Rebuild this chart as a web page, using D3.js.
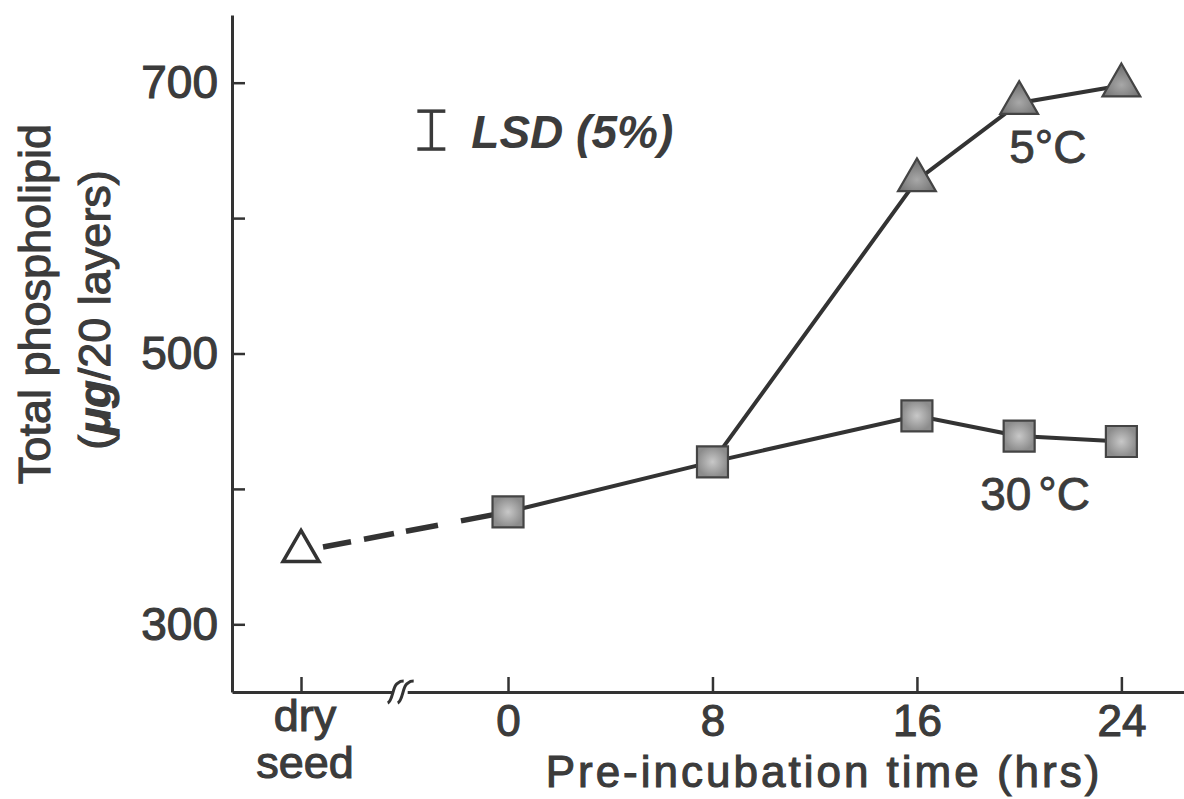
<!DOCTYPE html>
<html>
<head>
<meta charset="utf-8">
<script src="https://cdn.jsdelivr.net/npm/d3@7"></script>
<style>
  html, body { margin: 0; padding: 0; background: #fff; }
  svg { display: block; }
  text { font-family: "Liberation Sans", Arial, Helvetica, sans-serif; fill: #3c3c3c; }
</style>
</head>
<body>
<svg id="chart" width="1184" height="799"></svg>
<script>
// ---- data ----
const xTickHours = [0, 8, 16, 24];
const drySeedLabel = ["dry", "seed"];
const drySeedPos = -8.1;        // position of the "dry seed" category on the hour axis
const axisBreakPos = -4.2;      // where the x-axis break is drawn
const yTicks = [300, 400, 500, 600, 700];
const yTickLabels = [300, 500, 700];

const drySeedValue = 354;
const hours30 = [0, 8, 16, 20, 24];
const values30 = [383, 420, 454, 439, 435];
const hours5 = [8, 16, 20, 24];
const values5 = [420, 628, 685, 698];

const lsdPos = -3;
const lsdLow = 651;
const lsdValue = 28;

const seriesLabels = ["5°C", "30°C"];
const yTitle = ["Total phospholipid", "(μg/20 layers)"];
const xTitle = "Pre-incubation time (hrs)";

// ---- scales ----
const svg = d3.select("#chart");
const x = d3.scaleLinear().domain([-10.8, 26.45]).range([232, 1184]);
const y = d3.scaleLinear().domain([250, 750]).range([692, 15]);
const ink = "#333";
const txt = "#3a3a3a";
const heavy = 1.1;

// ---- axes ----
const yAxis = d3.axisLeft(y)
  .tickValues(yTicks)
  .tickSizeInner(-13).tickSizeOuter(0).tickPadding(14)
  .tickFormat(d => yTickLabels.includes(d) ? d3.format("d")(d) : "");
const gy = svg.append("g").attr("transform", `translate(${x.range()[0]},0)`).call(yAxis);
gy.select(".domain").attr("stroke", ink).attr("stroke-width", 3);
gy.selectAll(".tick line").attr("stroke", ink).attr("stroke-width", 2.5);
gy.selectAll(".tick text").attr("font-size", 46).attr("fill", txt)
  .attr("stroke", txt).attr("stroke-width", heavy).attr("font-family", null);

const xAxis = d3.axisBottom(x)
  .tickValues([drySeedPos].concat(xTickHours))
  .tickSizeInner(-15).tickSizeOuter(0).tickPadding(13)
  .tickFormat(d => d === drySeedPos ? "" : d3.format("d")(d));
const gx = svg.append("g").attr("transform", `translate(0,${y.range()[0]})`).call(xAxis);
gx.select(".domain").attr("stroke", ink).attr("stroke-width", 3);
gx.selectAll(".tick line").attr("stroke", ink).attr("stroke-width", 2.5);
gx.selectAll(".tick text").attr("font-size", 44).attr("fill", txt)
  .attr("stroke", txt).attr("stroke-width", heavy).attr("font-family", null);

// dry seed two-line label
svg.append("g").selectAll("text").data(drySeedLabel).join("text")
  .attr("x", x(drySeedPos) + 4)
  .attr("y", (d, i) => y.range()[0] + 39 + i * 47)
  .attr("text-anchor", "middle").attr("font-size", 45)
  .attr("stroke", txt).attr("stroke-width", heavy)
  .text(d => d);

// axis break "//"
const bx = x(axisBreakPos), by = y.range()[0];
svg.append("rect").attr("x", bx - 7).attr("y", by - 3).attr("width", 14).attr("height", 6).attr("fill", "#fff");
[-5, 5].forEach(off => {
  svg.append("path")
    .attr("d", `M${bx + off - 8},${by + 11} C${bx + off - 3},${by + 9} ${bx + off - 3},${by - 5} ${bx + off + 1},${by - 8} S${bx + off + 5},${by - 11} ${bx + off + 8},${by - 11}`)
    .attr("fill", "none").attr("stroke", ink).attr("stroke-width", 3);
});

// ---- titles ----
svg.append("g").attr("transform", "rotate(-90)")
  .selectAll("text").data(yTitle).join("text")
  .attr("x", (d, i) => -(304 + i * 6))
  .attr("y", (d, i) => 50 + i * 60)
  .attr("text-anchor", "middle").attr("font-size", 45)
  .attr("stroke", txt).attr("stroke-width", heavy)
  .each(function(d, i) {
    const t = d3.select(this);
    if (i === 1) {
      t.append("tspan").text("(");
      t.append("tspan").attr("font-style", "italic").attr("font-weight", "bold").text("μg");
      t.append("tspan").text(d.slice(3));
    } else {
      t.text(d);
    }
  });

svg.append("text")
  .attr("x", 824).attr("y", 787)
  .attr("text-anchor", "middle").attr("font-size", 44).attr("letter-spacing", 3)
  .attr("stroke", txt).attr("stroke-width", heavy)
  .text(xTitle);

// ---- lines ----
const line = d3.line().x(d => x(d[0])).y(d => y(d[1]));
const pts30 = hours30.map((h, i) => [h, values30[i]]);
const pts5 = hours5.map((h, i) => [h, values5[i]]);

svg.append("path").datum([[drySeedPos, drySeedValue], pts30[0]])
  .attr("d", line).attr("fill", "none").attr("stroke", ink).attr("stroke-width", 5.5)
  .attr("stroke-dasharray", "0,22.4,28.5,13.2,30.5,12.2,32.6,23.4,40");

svg.append("path").datum(pts30).attr("d", line)
  .attr("fill", "none").attr("stroke", ink).attr("stroke-width", 4);
svg.append("path").datum(pts5).attr("d", line)
  .attr("fill", "none").attr("stroke", ink).attr("stroke-width", 4);

// ---- markers ----
const defs = svg.append("defs");
const gSq = defs.append("radialGradient").attr("id", "sqFill");
gSq.append("stop").attr("offset", "0%").attr("stop-color", "#c8c8c8");
gSq.append("stop").attr("offset", "100%").attr("stop-color", "#8c8c8c");
const gTr = defs.append("radialGradient").attr("id", "trFill").attr("cy", "65%");
gTr.append("stop").attr("offset", "0%").attr("stop-color", "#a8a8a8");
gTr.append("stop").attr("offset", "100%").attr("stop-color", "#777");

svg.append("g").selectAll("path").data(pts30).join("path")
  .attr("transform", d => `translate(${x(d[0])},${y(d[1])})`)
  .attr("d", d3.symbol(d3.symbolSquare, 961))
  .attr("fill", "url(#sqFill)").attr("stroke", "#444").attr("stroke-width", 2.2);

svg.append("g").selectAll("path").data(pts5.slice(1)).join("path")
  .attr("transform", d => `translate(${x(d[0])},${y(d[1])})`)
  .attr("d", d3.symbol(d3.symbolTriangle, 620))
  .attr("fill", "url(#trFill)").attr("stroke", "#444").attr("stroke-width", 2.2);

svg.append("path")
  .attr("transform", `translate(${x(drySeedPos)},${y(drySeedValue)})`)
  .attr("d", d3.symbol(d3.symbolTriangle, 560))
  .attr("fill", "#fff").attr("stroke", ink).attr("stroke-width", 3.5);

// ---- series labels ----
svg.append("text")
  .attr("x", x(hours5[2]) - 10).attr("y", y(values5[2]) + 60)
  .attr("font-size", 46).attr("stroke", txt).attr("stroke-width", 0.8)
  .text(seriesLabels[0]);

const t30 = svg.append("text")
  .attr("x", x(hours30[3]) - 39).attr("y", y(values30[3]) + 74)
  .attr("font-size", 46).attr("stroke", txt).attr("stroke-width", 0.8);
t30.append("tspan").text(seriesLabels[1].slice(0, 2));
t30.append("tspan").attr("dx", 7).text(seriesLabels[1].slice(2));

// ---- LSD bar ----
const lx = x(lsdPos);
const lsdG = svg.append("g").attr("stroke", txt).attr("stroke-width", 3.5);
lsdG.append("line").attr("x1", lx).attr("x2", lx).attr("y1", y(lsdLow)).attr("y2", y(lsdLow + lsdValue));
[lsdLow, lsdLow + lsdValue].forEach(v => {
  lsdG.append("line").attr("x1", lx - 14).attr("x2", lx + 14).attr("y1", y(v)).attr("y2", y(v));
});
svg.append("text")
  .attr("x", lx + 40).attr("y", y(lsdLow) - 1)
  .attr("font-size", 46).attr("font-style", "italic").attr("font-weight", "bold")
  .text("LSD (5%)");
</script>
</body>
</html>
